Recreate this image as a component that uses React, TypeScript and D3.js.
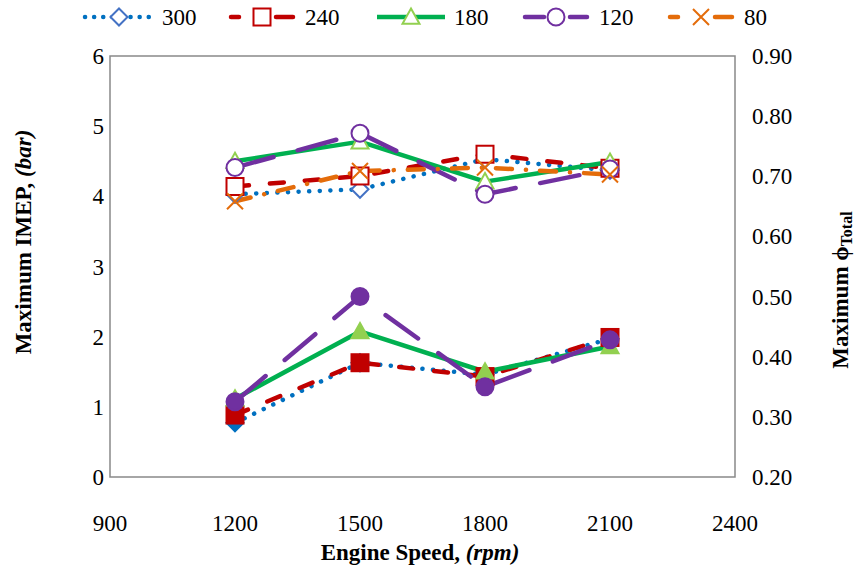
import React from "react";
import * as d3 from "d3";

const speeds = [1200, 1500, 1800, 2100];
const seriesNames = ["300", "240", "180", "120", "80"];
// Maximum IMEP (bar) - hollow markers, left axis
const imep300 = [4.03, 4.1, 4.53, 4.37];
const imep240 = [4.14, 4.29, 4.6, 4.4];
const imep180 = [4.5, 4.78, 4.21, 4.49];
const imep120 = [4.41, 4.9, 4.03, 4.39];
const imep80 = [3.93, 4.36, 4.41, 4.31];
// Maximum phi total - filled markers, right axis
const phi300 = [0.29, 0.39, 0.37, 0.43];
const phi240 = [0.303, 0.39, 0.367, 0.432];
const phi180 = [0.33, 0.442, 0.375, 0.417];
const phi120 = [0.325, 0.5, 0.35, 0.428];

const xTicks = [900, 1200, 1500, 1800, 2100, 2400];
const yLeftTicks = [0, 1, 2, 3, 4, 5, 6];
const yRightTicks = [0.2, 0.3, 0.4, 0.5, 0.6, 0.7, 0.8, 0.9];

const W = 854, H = 572;
const L = 110, R = 735, T = 56, B = 477;
const font = "'Liberation Serif', 'Times New Roman', serif";

type Style = { color: string; mColor: string; dash: string; legendDash: string; cap: string; marker: string };
const styles: Style[] = [
  { color: "#0070C0", mColor: "#4472C4", dash: "0.1 10.5", legendDash: "0.1 9", cap: "round", marker: "diamond" },
  { color: "#C00000", mColor: "#C00000", dash: "14 21", legendDash: "8 60", cap: "round", marker: "square" },
  { color: "#00B050", mColor: "#92D050", dash: "", legendDash: "", cap: "butt", marker: "triangle" },
  { color: "#7030A0", mColor: "#7030A0", dash: "40 25", legendDash: "22 28", cap: "round", marker: "circle" },
  { color: "#E46C0A", mColor: "#E46C0A", dash: "16 14 0.1 14", legendDash: "6 50", cap: "round", marker: "x" },
];

function Marker({ type, x, y, color, filled }: { type: string; x: number; y: number; color: string; filled: boolean }) {
  const fill = filled ? color : "#fff";
  const sw = 2;
  if (type === "diamond") {
    const s = 8.5;
    return <path d={`M${x},${y - s}L${x + s},${y}L${x},${y + s}L${x - s},${y}Z`} fill={fill} stroke={color} strokeWidth={sw} />;
  }
  if (type === "square") {
    const s = 8.5;
    return <rect x={x - s} y={y - s} width={2 * s} height={2 * s} fill={fill} stroke={color} strokeWidth={sw} />;
  }
  if (type === "triangle") {
    const s = 8.5;
    return <path d={`M${x},${y - s}L${x + s},${y + s * 0.8}L${x - s},${y + s * 0.8}Z`} fill={fill} stroke={color} strokeWidth={sw} />;
  }
  if (type === "circle") {
    return <circle cx={x} cy={y} r={8.5} fill={fill} stroke={color} strokeWidth={sw} />;
  }
  const s = 8;
  return (
    <path d={`M${x - s},${y - s}L${x + s},${y + s}M${x - s},${y + s}L${x + s},${y - s}`} stroke={color} strokeWidth={2} fill="none" />
  );
}

export default function App() {
  const x = d3.scaleLinear().domain([900, 2400]).range([L, R]);
  const yL = d3.scaleLinear().domain([0, 6]).range([B, T]);
  const yR = d3.scaleLinear().domain([0.2, 0.9]).range([B, T]);

  const imep = [imep300, imep240, imep180, imep120, imep80];
  const phi = [phi300, phi240, phi180, phi120];

  const line = (vals: number[], ys: d3.ScaleLinear<number, number>) =>
    d3.line<number>().x((_, i) => x(speeds[i])).y((v) => ys(v))(vals) || "";

  const legendX = [85, 228, 377, 522, 667];
  const legendLen = 68;

  return (
    <svg width={W} height={H} style={{ position: "absolute", left: 0, top: 0 }} fontFamily={font}>
      <rect width={W} height={H} fill="#fff" />
      <rect x={L} y={T} width={R - L} height={B - T} fill="none" stroke="#898989" strokeWidth={1.5} />

      {/* lines */}
      {phi.map((vals, i) => (
        <path key={"pl" + i} d={line(vals, yR)} fill="none" stroke={styles[i].color} strokeWidth={4.5}
          strokeDasharray={styles[i].dash} strokeLinecap={styles[i].cap as any} strokeLinejoin="round" />
      ))}
      {phi.map((vals, i) =>
        vals.map((v, j) => (
          <Marker key={"pm" + i + j} type={styles[i].marker} x={x(speeds[j])} y={yR(v)} color={i === 0 ? "#0070C0" : styles[i].mColor} filled={true} />
        ))
      )}
      {imep.map((vals, i) => (
        <path key={"il" + i} d={line(vals, yL)} fill="none" stroke={styles[i].color} strokeWidth={4.5}
          strokeDasharray={styles[i].dash} strokeLinecap={styles[i].cap as any} strokeLinejoin="round" />
      ))}
      {imep.map((vals, i) =>
        vals.map((v, j) => (
          <Marker key={"im" + i + j} type={styles[i].marker} x={x(speeds[j])} y={yL(v)} color={styles[i].mColor} filled={false} />
        ))
      )}

      {/* tick labels */}
      {xTicks.map((t) => (
        <text key={"xt" + t} x={x(t)} y={B + 54} textAnchor="middle" fontSize={23}>{t}</text>
      ))}
      {yLeftTicks.map((t) => (
        <text key={"yl" + t} x={L - 6} y={yL(t) + 8} textAnchor="end" fontSize={23}>{t}</text>
      ))}
      {yRightTicks.map((t) => (
        <text key={"yr" + t} x={R + 17} y={yR(t) + 8} textAnchor="start" fontSize={23}>{t.toFixed(2)}</text>
      ))}

      {/* axis titles */}
      <text x={420} y={560} textAnchor="middle" fontSize={23} fontWeight="bold">
        Engine Speed, <tspan fontStyle="italic">(rpm)</tspan>
      </text>
      <text transform={`translate(31,242) rotate(-90)`} textAnchor="middle" fontSize={23} fontWeight="bold">
        Maximum IMEP, <tspan fontStyle="italic">(bar)</tspan>
      </text>
      <text transform={`translate(848,290) rotate(-90)`} textAnchor="middle" fontSize={23} fontWeight="bold">
        Maximum ϕ<tspan fontSize={16} dy={4}>Total</tspan>
      </text>

      {/* legend */}
      {seriesNames.map((n, i) => {
        const lx = legendX[i];
        const ly = 17;
        const mid = lx + legendLen / 2;
        const st = styles[i];
        return (
          <g key={"lg" + n}>
            {i === 0 || i === 2 ? (
              <line x1={lx} x2={lx + legendLen} y1={ly} y2={ly} stroke={st.color} strokeWidth={4.5}
                strokeDasharray={st.legendDash} strokeLinecap={st.cap as any} />
            ) : (
              <g stroke={st.color} strokeWidth={4.5} strokeLinecap="round">
                <line x1={lx + 3} x2={lx + (i === 3 ? 22 : 11)} y1={ly} y2={ly} />
                <line x1={mid + 14} x2={lx + legendLen - 3} y1={ly} y2={ly} />
              </g>
            )}
            <Marker type={st.marker} x={mid} y={ly} color={st.mColor} filled={false} />
            <text x={lx + legendLen + 9} y={ly + 8} fontSize={23}>{n}</text>
          </g>
        );
      })}
    </svg>
  );
}
